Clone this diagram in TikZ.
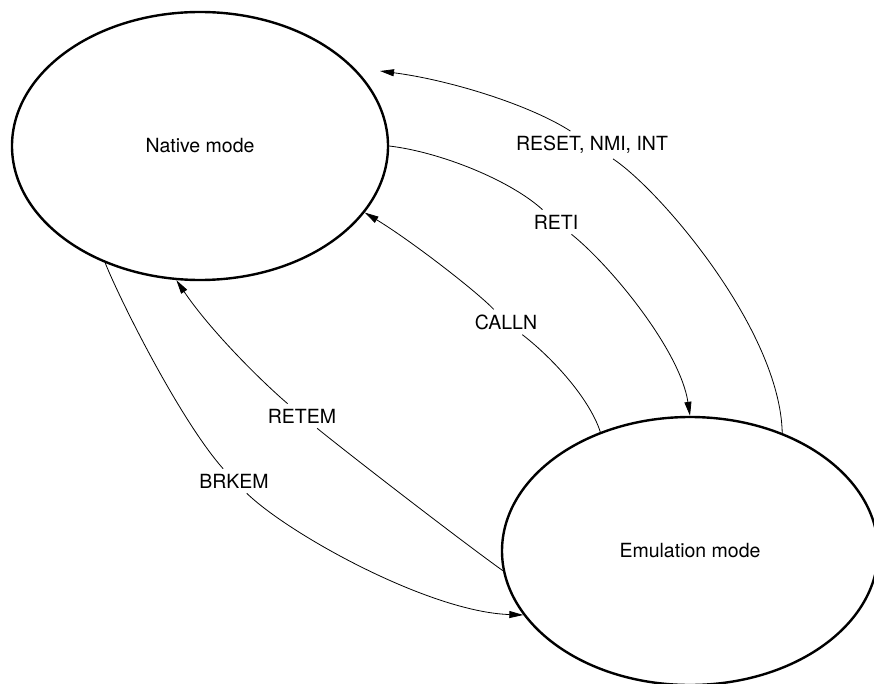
\documentclass[tikz,border=0pt]{standalone}
\usepackage{fontspec}
\setmainfont{TeX Gyre Heros}
\usetikzlibrary{shapes.geometric,arrows.meta}
\begin{document}
\begin{tikzpicture}[x=1pt,y=-1pt,
  state/.style={ellipse,draw,line width=2.4pt,inner sep=0pt,minimum width=376pt,minimum height=268pt,font=\fontsize{19.5pt}{23pt}\selectfont},
  lbl/.style={inner sep=5pt,font=\fontsize{19.5pt}{23pt}\selectfont},
  conn/.style={line width=0.8pt},
  arr/.style={conn,-{Triangle[length=14pt,width=7pt]}}]
\useasboundingbox (0,0) rectangle (874,684);
\node[state] (nat) at (200,146) {Native mode};
\node[state] (emu) at (690,551) {Emulation mode};
\node[lbl] (lreset) at (592,145) {RESET, NMI, INT};
\node[lbl] (lreti) at (556,222) {RETI};
\node[lbl] (lcalln) at (506,322) {CALLN};
\node[lbl] (lretem) at (302,416) {RETEM};
\node[lbl] (lbrkem) at (234,481) {BRKEM};
\coordinate (rtip) at (380,71);
% RESET, NMI, INT
\draw[conn] (emu.52) .. controls (780,330) and (660,190) .. (lreset);
\draw[arr] (lreset) .. controls (530,105) and (450,80) .. (rtip);
% RETI
\draw[conn] (nat.0) .. controls (440,152) and (510,180) .. (lreti);
\draw[arr] (lreti) .. controls (610,265) and (680,350) .. (emu.90);
% CALLN
\draw[conn] (emu.127) .. controls (590,400) and (555,360) .. (lcalln);
\draw[arr] (lcalln) .. controls (475,290) and (410,240) .. (nat.-22);
% RETEM
\draw[conn] (emu.186) .. controls (460,540) and (350,455) .. (lretem);
\draw[arr] (lretem) .. controls (260,380) and (210,330) .. (nat.-100);
% BRKEM
\draw[conn] (nat.-129) .. controls (120,300) and (180,420) .. (lbrkem);
\draw[arr] (lbrkem) .. controls (290,535) and (430,612) .. (emu.-159);
\end{tikzpicture}
\end{document}
